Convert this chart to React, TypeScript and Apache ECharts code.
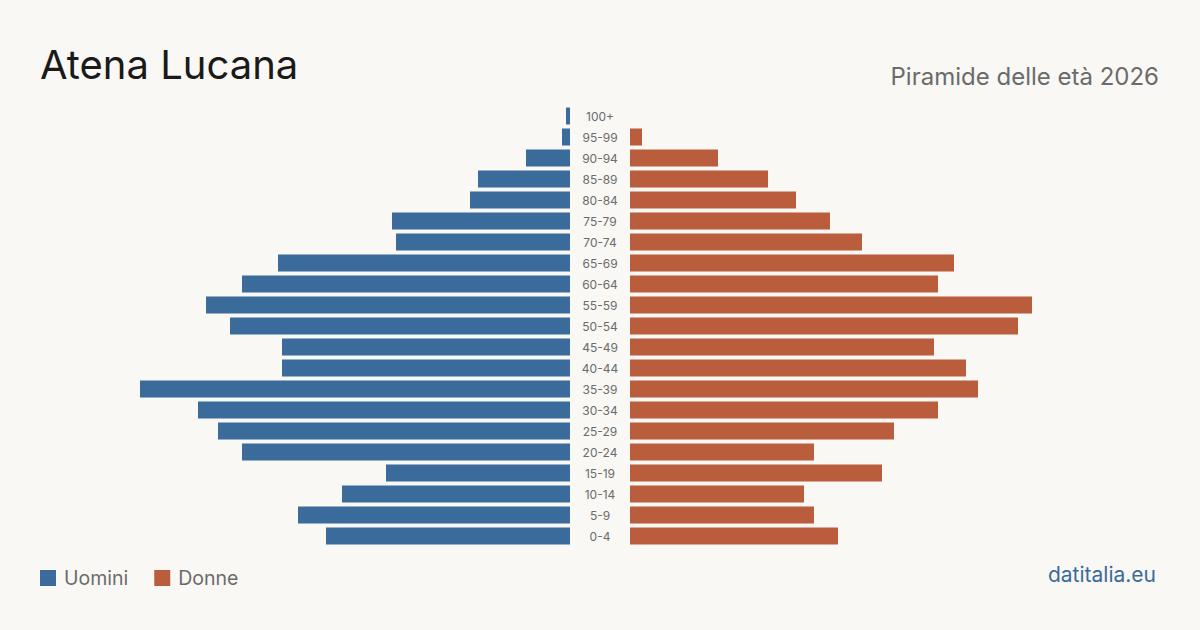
import React, { useEffect, useRef } from "react";
import * as echarts from "echarts";

const ageGroups = ["100+", "95-99", "90-94", "85-89", "80-84", "75-79", "70-74", "65-69", "60-64", "55-59", "50-54", "45-49", "40-44", "35-39", "30-34", "25-29", "20-24", "15-19", "10-14", "5-9", "0-4"];
const men = [1, 2, 11, 23, 25, 44.5, 43.5, 73, 82, 91, 85, 72, 72, 107.5, 93, 88, 82, 46, 57, 68, 61];
const women = [0, 3, 22, 34.5, 41.5, 50, 58, 81, 77, 100.5, 97, 76, 84, 87, 77, 66, 46, 63, 43.5, 46, 52];
const scaleMax = 107.5;

const title = "Atena Lucana";
const subtitle = "Piramide delle età 2026";
const source = "datitalia.eu";
const seriesNames = ["Uomini", "Donne"];

const BLUE = "#3b6b9b";
const ORANGE = "#b95d3d";
const BG = "#f9f8f4";
const FONT = "Inter, 'Noto Sans', sans-serif";

export default function App() {
  const ref = useRef<HTMLDivElement>(null);
  useEffect(() => {
    document.body.style.margin = "0";
    const chart = echarts.init(ref.current!, null, { renderer: "svg" });
    const cats = [...ageGroups].reverse();
    const m = [...men].reverse();
    const w = [...women].reverse();
    chart.setOption({
      animation: false,
      backgroundColor: BG,
      textStyle: { fontFamily: FONT },
      title: [
        { text: title, left: 40, top: 44, padding: 0, textStyle: { fontFamily: FONT, fontSize: 40, fontWeight: 400, color: "#1a1a1a" } },
        { text: subtitle, right: 41, top: 64, padding: 0, textStyle: { fontFamily: FONT, fontSize: 24, fontWeight: 400, color: "#6b6b6b" } },
        { text: source, right: 44, top: 564, padding: 0, textStyle: { fontFamily: FONT, fontSize: 21, fontWeight: 400, color: BLUE } },
      ],
      legend: {
        left: 40,
        top: 568,
        padding: 0,
        itemWidth: 16,
        itemHeight: 16,
        itemGap: 26,
        icon: "rect",
        data: seriesNames,
        textStyle: { fontFamily: FONT, fontSize: 19.5, color: "#6b6b6b", padding: [0, 0, 0, 3] },
      },
      grid: [
        { left: 140, width: 430, top: 105.5, height: 441 },
        { left: 630, width: 430, top: 105.5, height: 441 },
      ],
      xAxis: [
        { type: "value", gridIndex: 0, inverse: true, min: 0, max: scaleMax, show: false },
        { type: "value", gridIndex: 1, min: 0, max: scaleMax, show: false },
      ],
      yAxis: [
        {
          type: "category",
          gridIndex: 0,
          data: cats,
          position: "right",
          axisLine: { show: false },
          axisTick: { show: false },
          axisLabel: { align: "center", margin: 30, fontSize: 12, color: "#6b6b6b", fontFamily: FONT },
        },
        {
          type: "category",
          gridIndex: 1,
          data: cats,
          show: false,
        },
      ],
      series: [
        { name: seriesNames[0], type: "bar", xAxisIndex: 0, yAxisIndex: 0, data: m, barWidth: 17, itemStyle: { color: BLUE } },
        { name: seriesNames[1], type: "bar", xAxisIndex: 1, yAxisIndex: 1, data: w, barWidth: 17, itemStyle: { color: ORANGE } },
      ],
    });
    return () => chart.dispose();
  }, []);
  return <div ref={ref} style={{ position: "absolute", left: 0, top: 0, width: 1200, height: 630 }} />;
}
